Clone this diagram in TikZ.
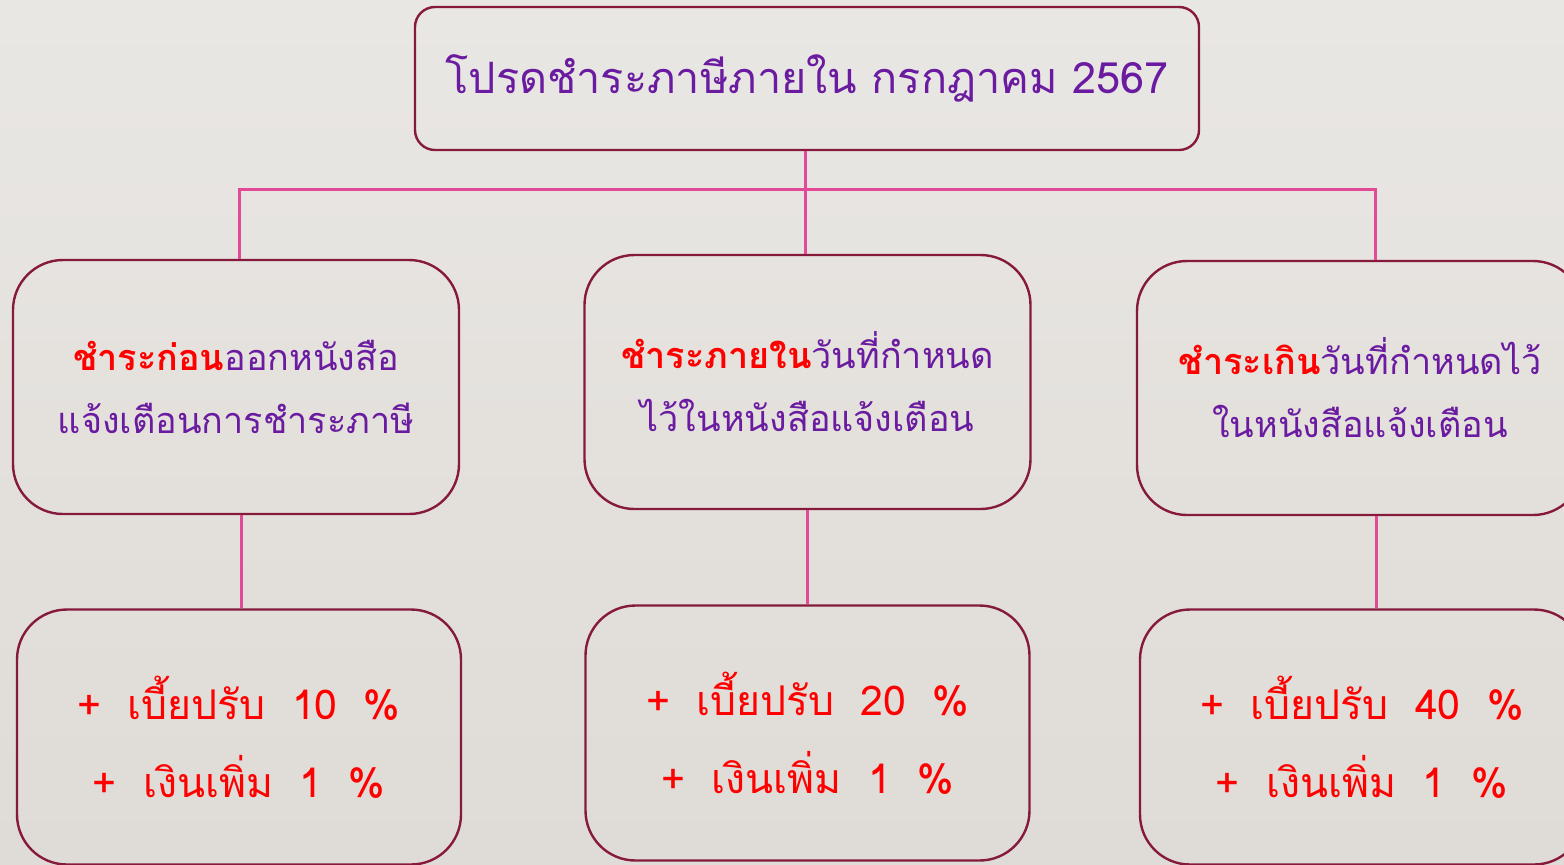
\documentclass[tikz,border=0pt]{standalone}
\usepackage{fontspec}
\setmainfont[Script=Thai]{Loma}
\newfontfamily\lowfont[Script=Thai, WordSpace=1.9]{Loma}
\usetikzlibrary{positioning,calc}
\definecolor{boxline}{HTML}{861A3C}
\definecolor{linkpink}{HTML}{E24A97}
\definecolor{thaipurple}{HTML}{6A1BA0}
\definecolor{payred}{HTML}{FF0000}
\definecolor{bgtop}{HTML}{E9E7E4}
\definecolor{bgbottom}{HTML}{DFDBD6}
\tikzset{
  box/.style={
    draw=boxline, line width=1.2pt, rounded corners=25pt,
    align=center, inner sep=0pt
  },
  midbox/.style={
    box, minimum width=223pt, minimum height=127pt,
    text=thaipurple, font=\fontsize{18}{31.5}\selectfont
  },
  lowbox/.style={
    box, minimum width=222pt, minimum height=127.5pt,
    text=payred, font=\lowfont\fontsize{20.5}{39}\selectfont
  },
  link/.style={draw=linkpink, line width=1.5pt}
}

\begin{document}
\begin{tikzpicture}[x=0.5pt, y=-0.5pt]
    % Background
    \shade[top color=bgtop, bottom color=bgbottom] (0,0) rectangle (1564,864);
    \useasboundingbox (0,0) rectangle (1564,864);

    % Title
    \node[box, rounded corners=10pt, minimum width=392pt, minimum height=71.5pt,
      text=thaipurple, font=\fontsize{21.6}{26}\selectfont] (title) at (807,78.5)
      {โปรดชำระภาษีภายใน กรกฎาคม 2567};

    % Middle row
    \node[midbox] (midL) at (236,387)
      {\textcolor{payred}{\bfseries ชำระก่อน}ออกหนังสือ\\แจ้งเตือนการชำระภาษี};
    \node[midbox] (midC) at (807.5,382)
      {\textcolor{payred}{\bfseries ชำระภายใน}วันที่กำหนด\\ไว้ในหนังสือแจ้งเตือน};
    \node[midbox] (midR) at (1360,388)
      {\textcolor{payred}{\bfseries ชำระเกิน}วันที่กำหนดไว้\\ในหนังสือแจ้งเตือน};

    % Bottom row
    \node[lowbox] (lowL) at (239,737) {+ เบี้ยปรับ 10 \%\\+ เงินเพิ่ม 1 \%};
    \node[lowbox] (lowC) at (807.5,733) {+ เบี้ยปรับ 20 \%\\+ เงินเพิ่ม 1 \%};
    \node[lowbox] (lowR) at (1362,737) {+ เบี้ยปรับ 40 \%\\+ เงินเพิ่ม 1 \%};

    % Connectors
    \coordinate (barL) at (239,189);
    \coordinate (barR) at (1375,189);
    \coordinate (colL) at (241,0);
    \coordinate (colC) at (805,0);
    \coordinate (colR) at (1376,0);
    \draw[link] (colC |- title.south) -- (colC |- midC.north);
    \draw[link] (barL |- midL.north) -- (barL) -- (barR) -- (barR |- midR.north);
    \draw[link] (colL |- midL.south) -- (colL |- lowL.north);
    \draw[link] (midC.south) -- (lowC.north);
    \draw[link] (colR |- midR.south) -- (colR |- lowR.north);
\end{tikzpicture}
\end{document}
